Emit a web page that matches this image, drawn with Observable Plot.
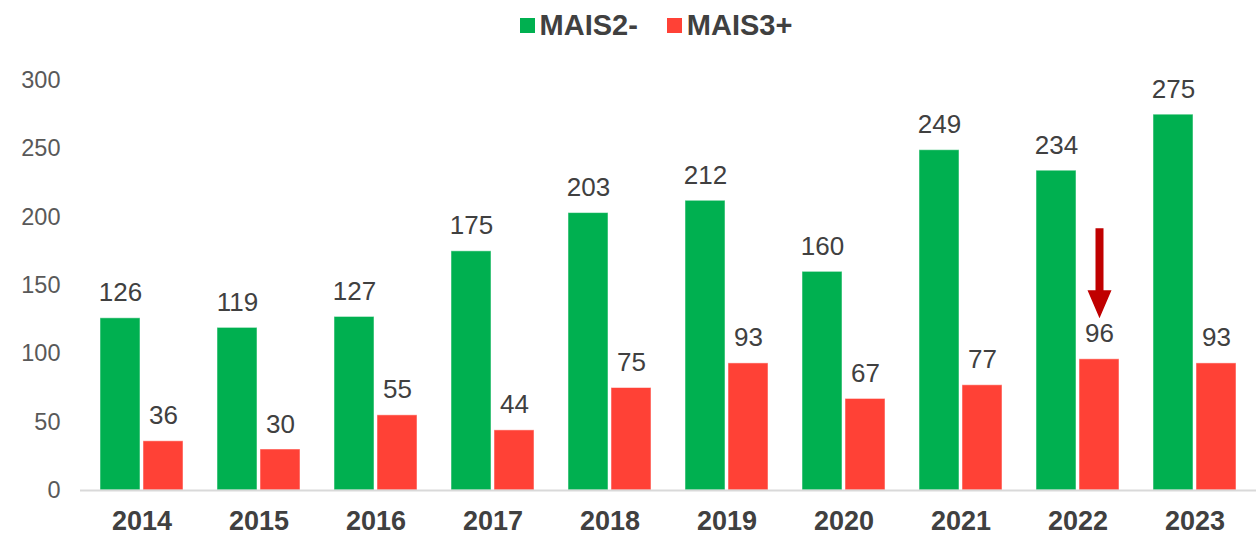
<!DOCTYPE html>
<html>
<head>
<meta charset="utf-8">
<script src="https://cdn.jsdelivr.net/npm/d3@7"></script>
<script src="https://cdn.jsdelivr.net/npm/@observablehq/plot@0.6"></script>
<style>
  body { margin: 0; background: #fff; font-family: "Liberation Sans", Arial, sans-serif; }
  #legend { width: 1256px; height: 50px; box-sizing: border-box; padding: 0 0 0 56px; display: flex; justify-content: center; align-items: center; gap: 29px; }
  .item { display: flex; align-items: center; gap: 5px; font-weight: bold; font-size: 29px; color: #404040; }
  .sw { width: 15px; height: 15px; display: inline-block; }
</style>
</head>
<body>
<div id="legend"></div>
<div id="chart"></div>
<script>
const years = ["2014","2015","2016","2017","2018","2019","2020","2021","2022","2023"];
const series = ["MAIS2-", "MAIS3+"];
const mais2 = [126, 119, 127, 175, 203, 212, 160, 249, 234, 275];
const mais3 = [36, 30, 55, 44, 75, 93, 67, 77, 96, 93];
const colors = ["#00B050", "#FF4136"];
const yTicks = [0, 50, 100, 150, 200, 250, 300];
const arrowYear = "2022";
const arrowTipValue = 126;

const rows = [];
years.forEach((y, i) => {
  rows.push({year: y, series: series[0], value: mais2[i]});
  rows.push({year: y, series: series[1], value: mais3[i]});
});
const green = rows.filter(d => d.series === series[0]);
const red = rows.filter(d => d.series === series[1]);

const legend = document.getElementById("legend");
series.forEach((s, i) => {
  const it = document.createElement("div");
  it.className = "item";
  it.innerHTML = `<span class="sw" style="background:${colors[i]}"></span><span>${s}</span>`;
  legend.appendChild(it);
});

const barW = 40, gap = 3;
const half = (barW + gap) / 2;

const arrowShape = {
  draw(ctx, l) {
    const w = 4, hw = 12, hl = 28;
    ctx.moveTo(-w, 0);
    ctx.lineTo(-w, -l + hl);
    ctx.lineTo(-hw, -l + hl);
    ctx.lineTo(0, -l);
    ctx.lineTo(hw, -l + hl);
    ctx.lineTo(w, -l + hl);
    ctx.lineTo(w, 0);
    ctx.closePath();
  }
};

const chart = Plot.plot({
  width: 1256,
  height: 485,
  marginLeft: 80,
  marginRight: 0,
  marginTop: 30,
  marginBottom: 45,
  style: { fontFamily: "Liberation Sans, Arial, sans-serif", background: "#fff" },
  x: { domain: years, paddingInner: 0.294, paddingOuter: 0.16, label: null },
  y: { domain: [0, 300], label: null },
  marks: [
    Plot.axisY({ ticks: yTicks, tickSize: 0, tickPadding: 20, fontSize: 23.5, fill: "#595959", label: null }),
    Plot.axisX({ tickSize: 0, tickPadding: 20, fontSize: 27, fontWeight: "bold", fill: "#404040", label: null }),
    Plot.barY(green, { x: "year", y: "value", fill: colors[0], insetRight: barW + gap, stroke: "#fff", strokeOpacity: 0.5 }),
    Plot.barY(red, { x: "year", y: "value", fill: colors[1], insetLeft: barW + gap, stroke: "#fff", strokeOpacity: 0.5 }),
    Plot.ruleY([0], { stroke: "#d9d9d9", strokeWidth: 2 }),
    Plot.text(green, { x: "year", y: "value", text: d => String(d.value), dx: -half, dy: -17, lineAnchor: "bottom", fontSize: 26, fill: "#404040" }),
    Plot.text(red, { x: "year", y: "value", text: d => String(d.value), dx: half, dy: -17, lineAnchor: "bottom", fontSize: 26, fill: "#404040" }),
    Plot.vector([{ year: arrowYear, value: arrowTipValue }], { x: "year", y: "value", dx: half, length: 90, rotate: 180, anchor: "end", shape: arrowShape, fill: "#C00000", stroke: "none" })
  ]
});
document.getElementById("chart").appendChild(chart);
</script>
</body>
</html>
